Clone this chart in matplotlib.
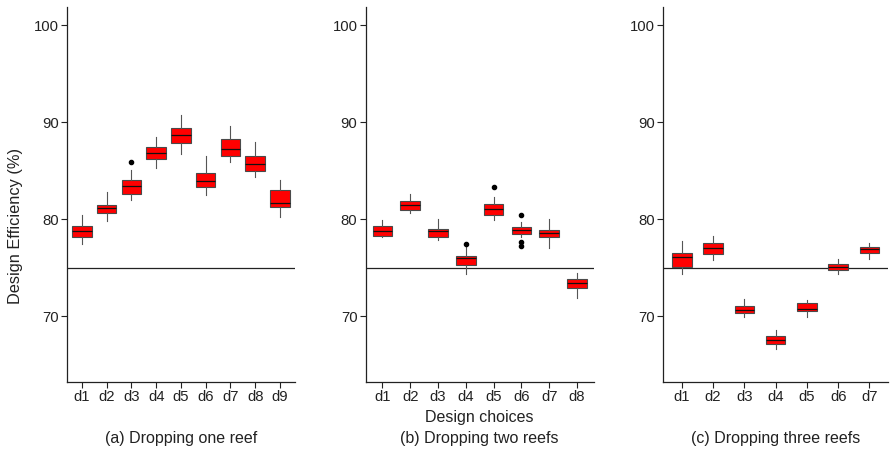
import matplotlib
matplotlib.use('Agg')
import matplotlib.pyplot as plt

plt.rcParams['font.family'] = ['Liberation Sans', 'DejaVu Sans']

# box statistics: (whislo, q1, median, q3, whishi, fliers)
labels_one = ['d1', 'd2', 'd3', 'd4', 'd5', 'd6', 'd7', 'd8', 'd9']
stats_one = [
    (77.4, 78.2, 78.8, 79.3, 80.4, []),
    (79.8, 80.6, 81.1, 81.5, 82.8, []),
    (82.0, 82.6, 83.4, 84.0, 85.05, [85.9]),
    (85.3, 86.2, 86.8, 87.45, 88.45, []),
    (86.7, 87.8, 88.65, 89.35, 90.75, []),
    (82.5, 83.3, 83.9, 84.7, 86.5, []),
    (85.85, 86.45, 87.2, 88.25, 89.55, []),
    (84.3, 84.95, 85.65, 86.5, 87.9, []),
    (80.25, 81.2, 81.7, 82.95, 84.0, []),
]

labels_two = ['d1', 'd2', 'd3', 'd4', 'd5', 'd6', 'd7', 'd8']
stats_two = [
    (78.1, 78.3, 78.75, 79.3, 79.9, []),
    (80.6, 80.9, 81.45, 81.9, 82.6, []),
    (77.8, 78.1, 78.8, 79.0, 80.0, []),
    (74.3, 75.3, 75.95, 76.2, 77.1, [77.45]),
    (79.9, 80.4, 81.0, 81.6, 82.25, [83.3]),
    (78.1, 78.5, 78.85, 79.15, 79.7, [80.4, 77.6, 77.25]),
    (77.0, 78.1, 78.6, 78.9, 80.0, []),
    (71.9, 72.9, 73.4, 73.8, 74.45, []),
]

labels_three = ['d1', 'd2', 'd3', 'd4', 'd5', 'd6', 'd7']
stats_three = [
    (74.35, 75.1, 76.05, 76.5, 77.7, []),
    (75.8, 76.4, 77.0, 77.5, 78.3, []),
    (69.95, 70.35, 70.65, 71.05, 71.8, []),
    (66.65, 67.15, 67.5, 67.9, 68.6, []),
    (69.9, 70.55, 70.7, 71.3, 71.65, []),
    (74.35, 74.75, 75.05, 75.4, 75.85, []),
    (75.9, 76.55, 76.9, 77.15, 77.5, []),
]

threshold = 75
captions = ['(a) Dropping one reef', '(b) Dropping two reefs', '(c) Dropping three reefs']

fig = plt.figure(figsize=(8.9, 4.55), dpi=100)
positions = [(0.0753, 0.256), (0.411, 0.256), (0.745, 0.253)]
panels = [(labels_one, stats_one), (labels_two, stats_two), (labels_three, stats_three)]

for k, ((labels, stats), (left, width)) in enumerate(zip(panels, positions)):
    ax = fig.add_axes([left, 0.1604, width, 0.824])
    n = len(labels)
    bxp_stats = []
    for lab, (lo, q1, med, q3, hi, fl) in zip(labels, stats):
        bxp_stats.append(dict(label=lab, whislo=lo, q1=q1, med=med, q3=q3,
                              whishi=hi, fliers=fl))
    spacing_px = width * 890 / (n + 0.2)
    w = 19.5 / spacing_px
    ax.bxp(bxp_stats, positions=range(1, n + 1), widths=w, patch_artist=True,
           showcaps=False,
           boxprops=dict(facecolor='#ff0000', edgecolor='#4a4a4a', linewidth=0.8),
           medianprops=dict(color='#111111', linewidth=0.9),
           whiskerprops=dict(color='#555555', linewidth=0.8),
           flierprops=dict(marker='o', markerfacecolor='black', markeredgecolor='black',
                           markersize=3))
    ax.axhline(threshold, color='#222222', linewidth=0.9, zorder=0)
    ax.set_xlim(0.4, n + 0.6)
    ax.set_ylim(63.2, 101.85)
    ax.set_yticks([70, 80, 90, 100])
    ax.set_xticks(range(1, n + 1))
    ax.set_xticklabels(labels)
    for s in ['top', 'right']:
        ax.spines[s].set_visible(False)
    for s in ['left', 'bottom']:
        ax.spines[s].set_color('#222222')
        ax.spines[s].set_linewidth(0.9)
    ax.tick_params(axis='both', labelsize=10.7, colors='#222222', length=4, width=0.8,
                   pad=2)
    if k == 0:
        ax.set_ylabel('Design Efficiency (%)', fontsize=11.8, color='#222222')
        ax.yaxis.set_label_coords(-0.193, 0.416)
    if k == 1:
        ax.set_xlabel('Design choices', fontsize=11.5, color='#222222', labelpad=4)
    fig.text(left + width / 2, 0.037, captions[k], ha='center', va='center',
             fontsize=11.5, color='#222222')

fig.savefig('out.png', dpi=100)
